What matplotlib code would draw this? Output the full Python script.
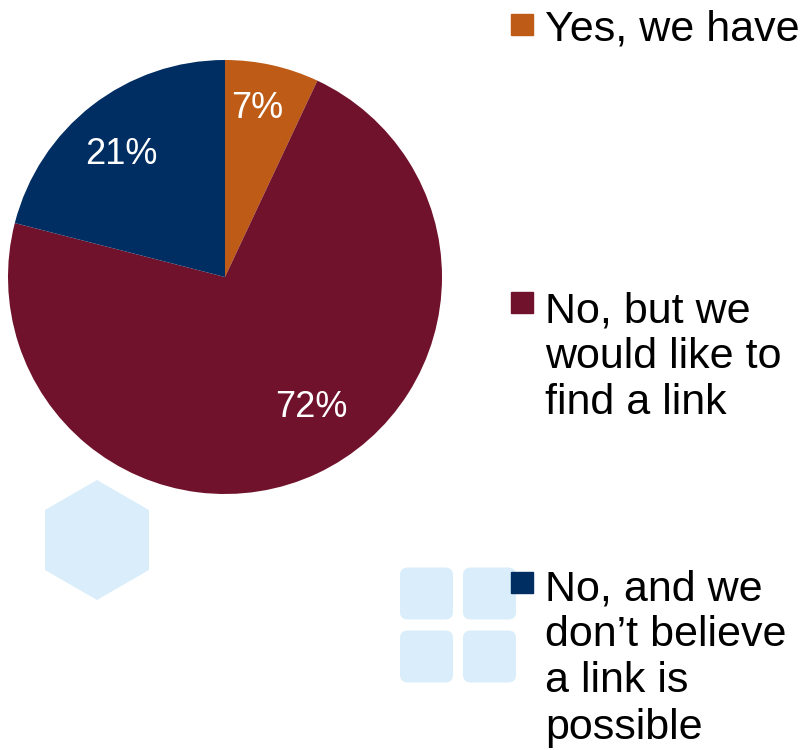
import matplotlib.pyplot as plt
from matplotlib.patches import Rectangle, FancyBboxPatch
import numpy as np

plt.rcParams['font.family'] = ['Liberation Sans', 'DejaVu Sans']

labels = ["Yes, we have", "No, but we\nwould like to\nfind a link", "No, and we\ndon\u2019t believe\na link is\npossible"]
shares = [7, 72, 21]
colors = ["#BD5B17", "#70122C", "#002D62"]

W, H = 801, 750
fig = plt.figure(figsize=(W / 100, H / 100), dpi=100)

# faint background decoration of the slide
bg = '#D9EEFA'
hex_pts = [(97 + 60 * np.sin(a), 540 - 60 * np.cos(a)) for a in np.linspace(0, 2 * np.pi, 7)]
fig.patches.append(plt.Polygon([(x / W, 1 - y / H) for x, y in hex_pts], closed=True,
                               transform=fig.transFigure, color=bg, lw=0))
for x0, y0 in [(400, 567), (463, 567), (400, 630), (463, 630)]:
    fig.patches.append(FancyBboxPatch(((x0 + 8) / W, 1 - (y0 + 45) / H), 37 / W, 37 / H,
                                      boxstyle="round,pad=0.01", transform=fig.transFigure,
                                      color=bg, lw=0))

# pie centre and radius in pixels
cx, cy, r = 225, 277, 217
ax = fig.add_axes([(cx - r) / W, (H - cy - r) / H, 2 * r / W, 2 * r / H])
wedges, texts, autotexts = ax.pie(shares, colors=colors, startangle=90, counterclock=False,
                                  autopct='%d%%', radius=1,
                                  textprops=dict(color='white', fontsize=26))
# nudge labels to where the slide shows them
label_dist = [0.80, 0.71, 0.75]
label_shift = [2, 9, 2]
for w, t, d, s in zip(wedges, autotexts, label_dist, label_shift):
    ang = np.deg2rad((w.theta1 + w.theta2) / 2 + s)
    t.set_position((d * np.cos(ang), d * np.sin(ang) - 0.012))
ax.set_xlim(-1, 1)
ax.set_ylim(-1, 1)
ax.set_aspect('equal')
ax.axis('off')

# legend, placed by hand like the slide
square_tops = [14, 292, 572]
text_tops = [10, 291, 569]
for lab, col, st, tt in zip(labels, colors, square_tops, text_tops):
    fig.patches.append(Rectangle((511 / W, 1 - (st + 21) / H), 22 / W, 21 / H,
                                 transform=fig.transFigure, color=col))
    fig.text(545 / W, 1 - tt / H, lab, fontsize=31, va='top', ha='left',
             linespacing=1.2)

fig.savefig("out.png", dpi=100)
